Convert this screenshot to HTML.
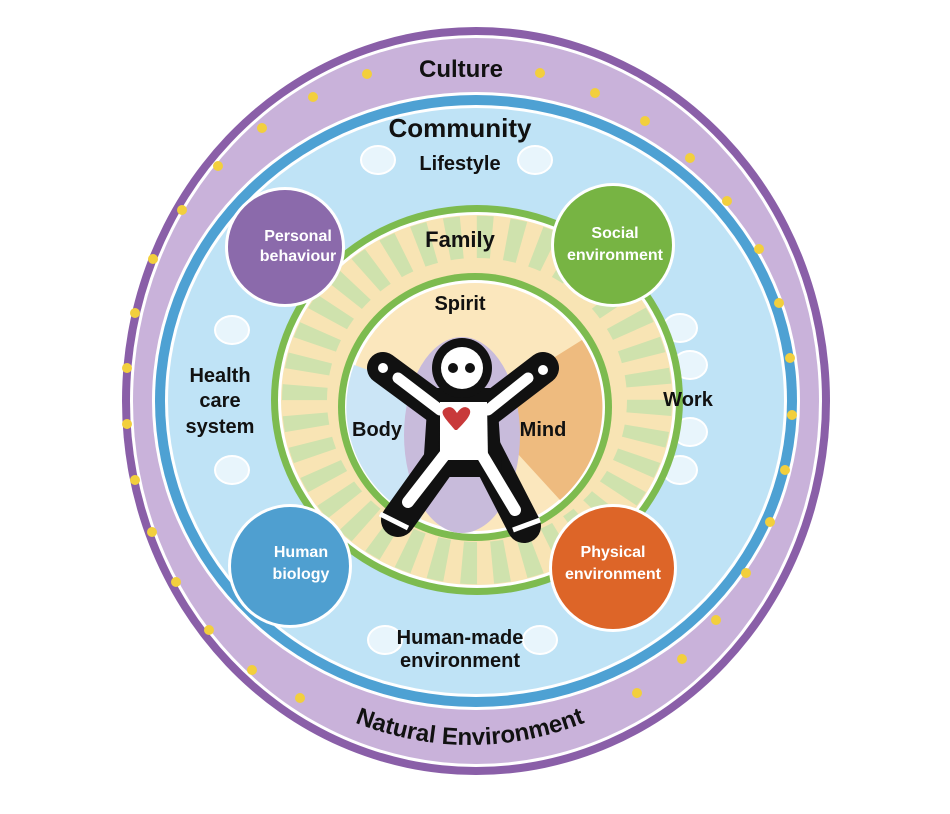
<!DOCTYPE html>
<html><head><meta charset="utf-8"><style>
html,body{margin:0;padding:0;background:#fff;}
svg{display:block;}
text{font-family:"Liberation Sans",sans-serif;font-weight:bold;}
</style></head><body>
<svg width="950" height="814" viewBox="0 0 950 814" xmlns="http://www.w3.org/2000/svg">
<defs>
<path id="arcB" d="M 290 690 Q 470 800 650 690"/>
</defs>
<!-- outer ring -->
<ellipse cx="476" cy="401" rx="354" ry="374" fill="#8a5fa8"/>
<ellipse cx="476" cy="401" rx="346" ry="366" fill="#fff"/>
<ellipse cx="476" cy="401" rx="343" ry="363" fill="#c9b2da"/>
<ellipse cx="476" cy="401" rx="324" ry="309" fill="#fff"/>
<ellipse cx="476" cy="401" rx="321" ry="306" fill="#4ea1d3"/>
<ellipse cx="476" cy="401" rx="311" ry="296" fill="#fff"/>
<ellipse cx="476" cy="401" rx="308" ry="293" fill="#bfe3f6"/>
<!-- yellow dots -->
<g fill="#f2cf3d">
<circle cx="367" cy="74" r="5"/><circle cx="540" cy="73" r="5"/>
<circle cx="313" cy="97" r="5"/><circle cx="595" cy="93" r="5"/>
<circle cx="262" cy="128" r="5"/><circle cx="645" cy="121" r="5"/>
<circle cx="218" cy="166" r="5"/><circle cx="690" cy="158" r="5"/>
<circle cx="182" cy="210" r="5"/><circle cx="727" cy="201" r="5"/>
<circle cx="153" cy="259" r="5"/><circle cx="759" cy="249" r="5"/>
<circle cx="135" cy="313" r="5"/><circle cx="779" cy="303" r="5"/>
<circle cx="127" cy="368" r="5"/><circle cx="790" cy="358" r="5"/>
<circle cx="127" cy="424" r="5"/><circle cx="792" cy="415" r="5"/>
<circle cx="135" cy="480" r="5"/><circle cx="785" cy="470" r="5"/>
<circle cx="152" cy="532" r="5"/><circle cx="770" cy="522" r="5"/>
<circle cx="176" cy="582" r="5"/><circle cx="746" cy="573" r="5"/>
<circle cx="209" cy="630" r="5"/><circle cx="716" cy="620" r="5"/>
<circle cx="252" cy="670" r="5"/><circle cx="682" cy="659" r="5"/>
<circle cx="300" cy="698" r="5"/><circle cx="637" cy="693" r="5"/>
</g>
<!-- small white circles -->
<g fill="#e8f5fc" stroke="#fff" stroke-width="2">
<ellipse cx="378" cy="160" rx="17" ry="14"/><ellipse cx="535" cy="160" rx="17" ry="14"/>
<ellipse cx="232" cy="330" rx="17" ry="14"/><ellipse cx="232" cy="470" rx="17" ry="14"/>
<ellipse cx="680" cy="328" rx="17" ry="14"/><ellipse cx="690" cy="365" rx="17" ry="14"/>
<ellipse cx="690" cy="432" rx="17" ry="14"/><ellipse cx="680" cy="470" rx="17" ry="14"/>
<ellipse cx="385" cy="640" rx="17" ry="14"/><ellipse cx="540" cy="640" rx="17" ry="14"/>
</g>
<!-- family ring -->
<ellipse cx="477" cy="400" rx="206" ry="195" fill="#7dbb4f"/>
<ellipse cx="477" cy="400" rx="199" ry="188" fill="#fff"/>
<ellipse cx="477" cy="400" rx="196" ry="185" fill="#f8e4b4"/>
<g transform="translate(477 400) scale(1 0.945)">
<circle r="172" fill="none" stroke="#cfe2ad" stroke-width="46" stroke-dasharray="15 15"/>
</g>
<ellipse cx="477" cy="400" rx="150" ry="142" fill="#f8e4b4"/>
<!-- inner ring -->
<ellipse cx="475" cy="407" rx="137" ry="134" fill="#7dbb4f"/>
<ellipse cx="475" cy="407" rx="130" ry="127" fill="#fff"/>
<ellipse cx="475" cy="407" rx="127" ry="124" fill="#fbe7bd"/>
<path d="M475 407 L354 365 A127 124 0 0 0 420 520 Z" fill="#cbe5f6"/>
<path d="M475 407 L582 340 A127 124 0 0 1 560 500 Z" fill="#eebb7f"/>
<ellipse cx="462" cy="435" rx="58" ry="98" fill="#c8bbdb"/>
<!-- figure -->
<g stroke-linecap="round" stroke-linejoin="round" fill="none">
<path d="M383 368 L440 410 M543 368 L488 410" stroke="#111" stroke-width="32"/>
<path d="M398 520 L448 450 M524 526 L485 450" stroke="#111" stroke-width="34"/>
</g>
<path d="M435 395 L490 395 L495 470 L430 470 Z" fill="#111" stroke="#111" stroke-width="14" stroke-linejoin="round"/>
<circle cx="462" cy="368" r="30" fill="#111"/>
<circle cx="462" cy="368" r="21" fill="#fff"/>
<circle cx="453" cy="368" r="5" fill="#111"/><circle cx="470" cy="368" r="5" fill="#111"/>
<g stroke-linecap="round" fill="none" stroke="#fff">
<path d="M398 378 L440 410 M528 378 L488 410" stroke-width="11"/>
<path d="M408 502 L450 448 M515 510 L478 448" stroke-width="12"/>
</g>
<path d="M440 402 L487 402 L488 460 L440 460 Z" fill="#fff"/>
<circle cx="383" cy="368" r="5" fill="#fff"/><circle cx="543" cy="370" r="5" fill="#fff"/>
<path d="M380 514 L408 528 M513 530 L540 520" stroke="#fff" stroke-width="5"/>
<path d="M455 430 C445 418 438 412 446 408 C452 405 455 410 457 413 C459 410 463 405 468 408 C474 412 467 420 457 430 Z" fill="#c8393a"/>
<!-- colored circles -->
<circle cx="285" cy="247" r="60" fill="#fff"/><circle cx="285" cy="247" r="57" fill="#8b6aab"/>
<circle cx="613" cy="245" r="62" fill="#fff"/><circle cx="613" cy="245" r="59" fill="#77b443"/>
<circle cx="290" cy="566" r="62" fill="#fff"/><circle cx="290" cy="566" r="59" fill="#4f9fd0"/>
<circle cx="613" cy="568" r="64" fill="#fff"/><circle cx="613" cy="568" r="61" fill="#dd6528"/>
<g fill="#fff" font-size="16" text-anchor="middle">
<text x="298" y="241">Personal</text><text x="298" y="261">behaviour</text>
<text x="615" y="238">Social</text><text x="615" y="260">environment</text>
<text x="301" y="557">Human</text><text x="301" y="579">biology</text>
<text x="613" y="557">Physical</text><text x="613" y="579">environment</text>
</g>
<g fill="#111" text-anchor="middle">
<text x="461" y="77" font-size="24">Culture</text>
<text x="460" y="137" font-size="26">Community</text>
<text x="460" y="170" font-size="20">Lifestyle</text>
<text x="460" y="247" font-size="22">Family</text>
<text x="460" y="310" font-size="20">Spirit</text>
<text x="377" y="436" font-size="20">Body</text>
<text x="543" y="436" font-size="20">Mind</text>
<text x="220" y="382" font-size="20">Health</text>
<text x="220" y="407" font-size="20">care</text>
<text x="220" y="433" font-size="20">system</text>
<text x="688" y="406" font-size="20">Work</text>
<text x="460" y="644" font-size="20">Human-made</text>
<text x="460" y="667" font-size="20">environment</text>
<text font-size="24" text-anchor="middle"><textPath href="#arcB" startOffset="50%">Natural Environment</textPath></text>
</g>
</svg>
</body></html>
